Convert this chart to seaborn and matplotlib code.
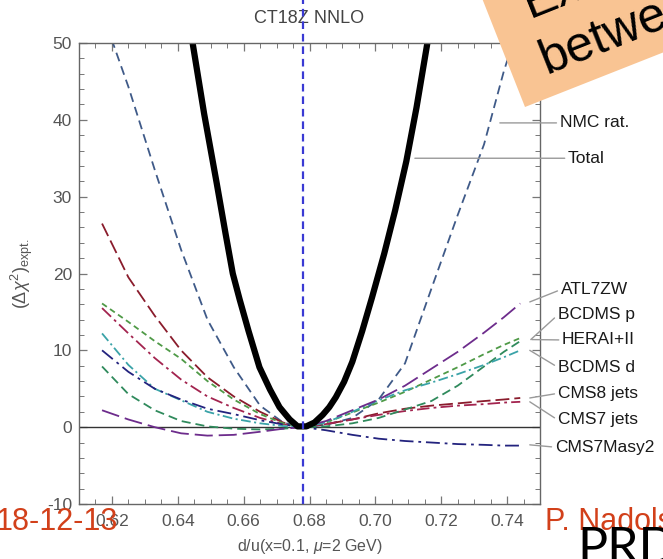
import matplotlib
matplotlib.use("Agg")
import matplotlib.pyplot as plt
from matplotlib.patches import Polygon
from matplotlib.ticker import MultipleLocator, FormatStrFormatter
import seaborn as sns

# d/u values at which the Lagrange-multiplier scan was evaluated
x_grid = [0.617, 0.625, 0.633, 0.641, 0.649, 0.657, 0.665, 0.672, 0.678,
          0.685, 0.693, 0.701, 0.709, 0.717, 0.725, 0.733, 0.739, 0.744]

nmc_rat   = [54.0, 44.3, 33.5, 23.1, 14.0, 7.8, 2.8, 0.6, 0.0,
             0.3, 1.2, 3.6, 8.3, 18.0, 27.6, 36.8, 46.3, 53.0]
atl7zw    = [2.2, 1.0, 0.0, -0.8, -1.1, -1.0, -0.6, -0.2, 0.0,
             0.8, 2.2, 3.6, 5.4, 7.6, 9.8, 12.3, 14.3, 16.1]
bcdms_p   = [16.1, 13.7, 11.2, 8.9, 6.0, 3.6, 1.7, 0.5, 0.0,
             0.6, 1.9, 3.2, 4.6, 6.2, 7.8, 9.5, 10.7, 11.6]
hera_1_2  = [7.9, 4.3, 2.2, 0.8, 0.1, -0.2, -0.3, -0.2, 0.0,
             0.1, 0.5, 1.2, 2.3, 3.4, 5.4, 7.9, 9.8, 11.2]
bcdms_d   = [12.2, 8.1, 5.0, 3.5, 2.0, 1.1, 0.5, 0.15, 0.0,
             0.6, 2.0, 3.5, 4.8, 5.8, 6.9, 8.1, 9.1, 10.0]
cms8_jets = [26.5, 19.5, 14.5, 10.0, 6.5, 4.0, 2.0, 0.6, 0.0,
             0.4, 1.0, 1.8, 2.4, 2.8, 3.1, 3.4, 3.6, 3.8]
cms7_jets = [15.5, 12.2, 9.0, 6.2, 4.0, 2.5, 1.2, 0.4, 0.0,
             0.4, 1.0, 1.6, 2.1, 2.5, 2.8, 3.0, 3.2, 3.3]
cms7_masy = [10.0, 7.2, 5.0, 3.6, 2.4, 1.7, 0.9, 0.35, 0.0,
             -0.4, -1.0, -1.5, -1.8, -2.0, -2.2, -2.3, -2.4, -2.4]

# total Delta chi^2, sampled more densely around the minimum
total_x = [0.6415, 0.6445, 0.6480, 0.6518, 0.6545, 0.6567, 0.6588, 0.6615,
           0.6648, 0.6680, 0.6709, 0.6740, 0.6764, 0.6790, 0.6815, 0.6840,
           0.6860, 0.6880, 0.6905, 0.6930, 0.6960, 0.6990, 0.7027, 0.7060,
           0.7094, 0.7125, 0.7158, 0.7190]
total   = [58.5, 50.0, 40.8, 31.8, 25.2, 20.0, 16.6, 12.5,
           7.8, 4.9, 2.6, 1.0, 0.1, 0.1, 0.6, 1.6,
           2.6, 3.9, 5.9, 8.5, 12.5, 16.9, 22.6, 28.2,
           34.6, 41.6, 50.0, 57.5]

best_fit = 0.678

x_ticks = [0.62, 0.64, 0.66, 0.68, 0.70, 0.72, 0.74]
y_ticks = [-10, 0, 10, 20, 30, 40, 50]

sns.set_style("ticks")
plt.rcParams["font.family"] = ["Liberation Sans", "DejaVu Sans"]
plt.rcParams["mathtext.fontset"] = "custom"
plt.rcParams["mathtext.rm"] = "Liberation Sans"
plt.rcParams["mathtext.it"] = "Liberation Sans:italic"
plt.rcParams["mathtext.bf"] = "Liberation Sans:bold"
plt.rcParams["lines.scale_dashes"] = False

W, H = 663, 559
fig = plt.figure(figsize=(W / 100, H / 100), dpi=100)
ax = fig.add_axes([79 / W, 1 - 504 / H, 461 / W, 461 / H])

curves = [
    (nmc_rat,   "#3f5a88", 1.3, (6.5, 3.8)),
    (cms8_jets, "#8a1c2c", 1.3, (10, 3.6)),
    (cms7_jets, "#a3244f", 1.3, (9, 3, 2, 3)),
    (bcdms_p,   "#4f9a47", 1.3, (4.2, 2.8)),
    (hera_1_2,  "#2f8a5c", 1.3, (6.5, 3.6)),
    (bcdms_d,   "#3aa3a8", 1.3, (7, 2.5, 1.5, 2.5)),
    (cms7_masy, "#23237e", 1.3, (10, 3.5, 2, 3.5)),
    (atl7zw,    "#6d2c8c", 1.3, (13, 4.3)),
]

ax.axhline(0, color="#333333", lw=1.0, zorder=1)

for vals, col, lw, dash in curves:
    sns.lineplot(x=x_grid, y=vals, ax=ax, color=col, lw=lw,
                 estimator=None, sort=False, legend=False)
    ax.lines[-1].set_dashes(dash)

sns.lineplot(x=total_x, y=total, ax=ax, color="black", lw=4.5,
             estimator=None, sort=False, legend=False)

# best-fit d/u, drawn through the frame up to the top edge
ax.plot([best_fit, best_fit], [-10, 56], color="#3a3ad4", lw=1.6,
        dashes=(5.5, 3.5), clip_on=False, zorder=5)

ax.set_xlim(0.61, 0.75)
ax.set_ylim(-10, 50)
ax.set_xticks(x_ticks)
ax.set_yticks(y_ticks)
ax.xaxis.set_major_formatter(FormatStrFormatter("%.2f"))
ax.yaxis.set_major_formatter(FormatStrFormatter("%d"))
ax.xaxis.set_minor_locator(MultipleLocator(0.005))
ax.yaxis.set_minor_locator(MultipleLocator(2))
ax.tick_params(which="both", direction="in", top=True, right=True,
               colors="#777777", labelcolor="#555555", labelsize=12.5)
ax.tick_params(which="major", length=6, width=0.9)
ax.tick_params(which="minor", length=3.5, width=0.7)
ax.tick_params(axis="x", pad=7)
ax.tick_params(axis="y", pad=5)
for s in ax.spines.values():
    s.set_color("#666666")
    s.set_linewidth(1.0)

ax.text(0.5, 1 + 25 / 461, "CT18Z NNLO", transform=ax.transAxes,
        ha="center", va="center", fontsize=13, color="#444444")
ax.set_xlabel(r"d/u(x=0.1, $\mathit{\mu}$=2 GeV)", fontsize=11.5, color="#555555")
ax.xaxis.set_label_coords(0.5, -(547 - 504) / 461)
ax.xaxis.label.set_va("center")
ax.set_ylabel(r"$(\Delta\chi^2)_{\mathrm{expt.}}$", fontsize=13, color="#555555")
ax.yaxis.set_label_coords(-(79 - 22) / 461, 0.5)
ax.yaxis.label.set_va("center")

# curve labels with leader lines, to the right of the frame
labels = [
    ("NMC rat.",   0.7378, 39.6, 0.7560, 39.6),
    ("Total",      0.7120, 35.0, 0.7585, 35.0),
    ("ATL7ZW",     0.7469, 16.3, 0.7563, 17.9),
    ("BCDMS p",    0.7472, 11.4, 0.7554, 14.6),
    ("HERAI+II",   0.7475, 11.4, 0.7567, 11.35),
    ("BCDMS d",    0.7469, 10.0, 0.7554, 7.8),
    ("CMS8 jets",  0.7469, 3.8,  0.7554, 4.4),
    ("CMS7 jets",  0.7469, 3.3,  0.7554, 0.94),
    ("CMS7Masy2",  0.7469, -2.3, 0.7545, -2.6),
]
for name, ax0, ay0, tx, ty in labels:
    ax.annotate(name, xy=(ax0, ay0), xytext=(tx, ty), textcoords="data",
                ha="left", va="center", fontsize=12.5, color="#1a1a1a",
                annotation_clip=False,
                arrowprops=dict(arrowstyle="-", color="#9a9a9a", lw=1.0,
                                shrinkA=0, shrinkB=0, relpos=(0, 0.5)))

# slide decorations around the plot
def fxy(px, py):
    return (px / W, 1 - py / H)

note = Polygon([fxy(478, -12), fxy(525, 107), fxy(720, 30), fxy(720, -12)],
               closed=True, transform=fig.transFigure, facecolor="#f9c493",
               edgecolor="none", zorder=20)
fig.patches.append(note)
fig.text(*fxy(530, 18), "Ex", rotation=21.7, rotation_mode="anchor",
         ha="left", va="baseline", fontsize=36, color="black", zorder=21)
fig.text(*fxy(547, 74), "between", rotation=21.7, rotation_mode="anchor",
         ha="left", va="baseline", fontsize=36, color="black", zorder=21)

fig.text(*fxy(-4, 530), "18-12-13", ha="left", va="baseline",
         fontsize=22, color="#d2401a", zorder=21)
fig.text(*fxy(545, 530), "P. Nadolsky", ha="left", va="baseline",
         fontsize=22, color="#d2401a", zorder=21)
fig.text(*fxy(577, 563), "PRD", ha="left", va="baseline",
         fontsize=36, color="black", family="Lato", zorder=21)

fig.savefig("out.png", dpi=100)
